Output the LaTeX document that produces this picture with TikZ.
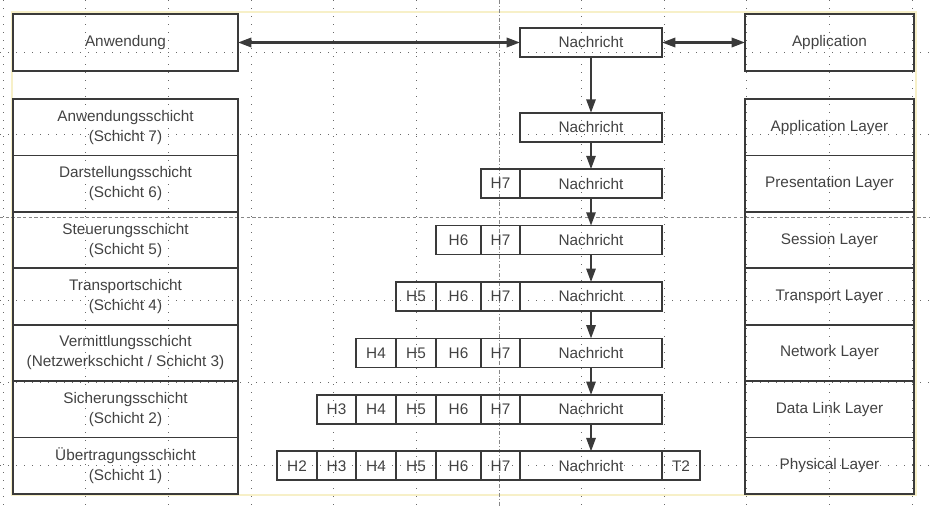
\documentclass[tikz,border=0pt]{standalone}
\usepackage{fontspec}
\setmainfont{Liberation Sans}
\usetikzlibrary{arrows.meta}
\definecolor{ink}{RGB}{58,58,58}
\definecolor{txt}{RGB}{66,66,66}
\definecolor{gridc}{RGB}{105,105,105}
\definecolor{pagec}{RGB}{247,240,200}
\tikzset{
  cellbox/.style 2 args={draw=ink, line width=1.25pt,
    minimum width={#1*0.75pt}, minimum height={#2*0.75pt},
    inner sep=0pt, outer sep=0pt, text=txt, align=center,
    font=\fontsize{11.5}{15}\selectfont},
  flow/.style={draw=ink, line width=1.4pt,
    arrows={-Triangle[length=10pt,width=7pt]}},
  twoway/.style={draw=ink, line width=1.7pt,
    arrows={Triangle[length=10pt,width=7pt]-Triangle[length=10pt,width=7pt]}},
  gridline/.style={gridc, line width=0.65pt, dash pattern=on 0.65pt off 5.35pt},
  guideline/.style={gridc!80, line width=0.5pt, dash pattern=on 2.5pt off 1.8pt},
}
\begin{document}
\begin{tikzpicture}[x=0.75pt,y=-0.75pt]
\useasboundingbox (0,0) rectangle (930,507);

% page frame of the drawing sheet
\draw[pagec, line width=0.8pt] (12,12) rectangle (916,495);

% editor grid
\foreach \gx in {3,85.7,168.5,251.2,333.9,416.7,581.4,664.1,746.8,829.6,912.3}
  \draw[gridline] (\gx,0) -- (\gx,507);
\foreach \gy in {52,134.7,300.1,382.8,465.5}
  \draw[gridline] (0,\gy) -- (930,\gy);
% guide lines
\draw[guideline, dash pattern=on 3pt off 1.5pt on 0.6pt off 1.5pt] (499,0) -- (499,507);
\draw[guideline] (0,217.5) -- (930,217.5);

% top row: applications and the message
\node[cellbox={225}{57}] (anw) at (125.5,42.5) {Anwendung};
\node[cellbox={169}{57}] (app) at (829.5,42.5) {Application};
\node[cellbox={142}{29}] (msg) at (591,42.5) {Nachricht};
\draw[twoway] (anw.east) -- (msg.west);
\draw[twoway] (msg.east) -- (app.west);

% German layer names
\node[cellbox={225}{56.43}] (de7) at (125.5,127.2) {Anwendungsschicht\\(Schicht 7)};
\node[cellbox={225}{56.43}] (de6) at (125.5,183.6) {Darstellungsschicht\\(Schicht 6)};
\node[cellbox={225}{56.43}] (de5) at (125.5,240.1) {Steuerungsschicht\\(Schicht 5)};
\node[cellbox={225}{56.43}] (de4) at (125.5,296.5) {Transportschicht\\(Schicht 4)};
\node[cellbox={225}{56.43}] (de3) at (125.5,352.9) {Vermittlungsschicht\\(Netzwerkschicht / Schicht 3)};
\node[cellbox={225}{56.43}] (de2) at (125.5,409.4) {Sicherungsschicht\\(Schicht 2)};
\node[cellbox={225}{56.43}] (de1) at (125.5,465.8) {Übertragungsschicht\\(Schicht 1)};

% English layer names
\node[cellbox={169}{56.43}] (en7) at (829.5,127.2) {Application Layer};
\node[cellbox={169}{56.43}] (en6) at (829.5,183.6) {Presentation Layer};
\node[cellbox={169}{56.43}] (en5) at (829.5,240.1) {Session Layer};
\node[cellbox={169}{56.43}] (en4) at (829.5,296.5) {Transport Layer};
\node[cellbox={169}{56.43}] (en3) at (829.5,352.9) {Network Layer};
\node[cellbox={169}{56.43}] (en2) at (829.5,409.4) {Data Link Layer};
\node[cellbox={169}{56.43}] (en1) at (829.5,465.8) {Physical Layer};

% payload on every layer
\node[cellbox={142}{29}] (n7) at (591,127.2) {Nachricht};
\node[cellbox={142}{29}] (n6) at (591,183.6) {Nachricht};
\node[cellbox={142}{29}] (n5) at (591,240.1) {Nachricht};
\node[cellbox={142}{29}] (n4) at (591,296.5) {Nachricht};
\node[cellbox={142}{29}] (n3) at (591,352.9) {Nachricht};
\node[cellbox={142}{29}] (n2) at (591,409.4) {Nachricht};
\node[cellbox={142}{29}] (n1) at (591,465.8) {Nachricht};

% headers added on the way down
\foreach \r/\y/\first in {6/183.6/7,5/240.1/6,4/296.5/5,3/352.9/4,2/409.4/3,1/465.8/2}{
  \foreach \h/\xc/\w in {2/297/40,3/336.5/39,4/376/40,5/416/40,6/458.5/45,7/500.5/39}{
    \ifnum\h<\first\relax\else
      \node[cellbox={\w}{29}] (h\r-\h) at (\xc,\y) {H\h};
    \fi
  }
}
% trailer of the data link layer
\node[cellbox={38}{29}] (t2) at (681,465.8) {T2};

% message flow downwards
\draw[flow] (msg.south) -- (n7.north);
\draw[flow] (n7.south) -- (n6.north);
\draw[flow] (n6.south) -- (n5.north);
\draw[flow] (n5.south) -- (n4.north);
\draw[flow] (n4.south) -- (n3.north);
\draw[flow] (n3.south) -- (n2.north);
\draw[flow] (n2.south) -- (n1.north);
\end{tikzpicture}
\end{document}
